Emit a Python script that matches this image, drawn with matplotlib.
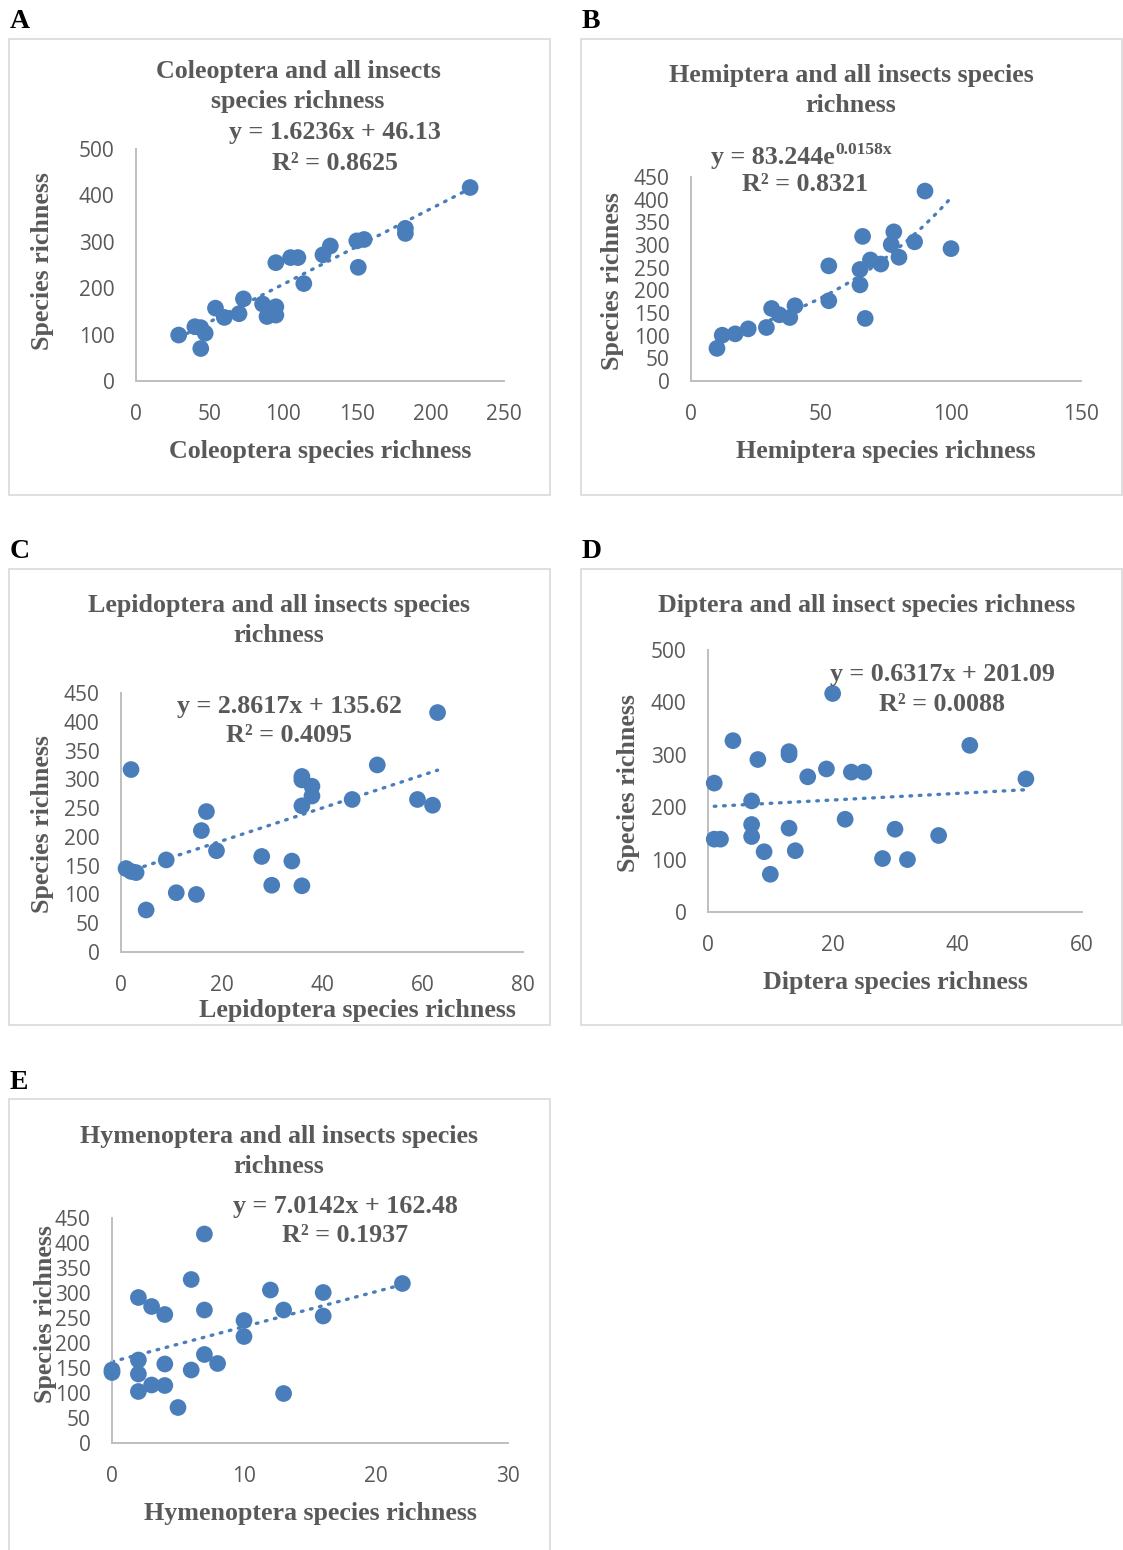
import numpy as np
import matplotlib
matplotlib.use("Agg")
import matplotlib.pyplot as plt
from matplotlib.patches import Rectangle

# ---------------- data ----------------
cole_x = [29, 40, 44, 47, 44, 54, 60, 70, 73, 86, 89, 95, 95, 95, 105, 110, 114, 127, 132, 150, 155, 151, 183, 183, 227]
cole_y = [99, 117, 115, 103, 70, 157, 137, 145, 177, 166, 139, 160, 142, 255, 266, 266, 210, 272, 291, 302, 305, 245, 329, 318, 417]

hemi_x = [10, 12, 17, 22, 29, 31, 34, 38, 40, 53, 53, 66, 65, 65, 67, 69, 73, 77, 78, 80, 86, 90, 100]
hemi_y = [72, 101, 104, 115, 118, 160, 146, 140, 166, 254, 177, 319, 246, 212, 138, 267, 258, 301, 329, 273, 307, 419, 292]

lepi_x = [1, 2, 3, 2, 5, 9, 11, 15, 16, 17, 19, 28, 30, 34, 36, 36, 36, 36, 38, 38, 46, 51, 59, 62, 63]
lepi_y = [145, 140, 138, 317, 73, 160, 103, 100, 211, 244, 176, 166, 116, 158, 115, 254, 305, 299, 288, 271, 265, 325, 265, 255, 416]

dipt_x = [1, 1, 2, 4, 7, 7, 7, 8, 9, 10, 13, 13, 13, 14, 16, 19, 20, 22, 23, 25, 28, 30, 32, 37, 42, 51]
dipt_y = [246, 139, 139, 327, 212, 167, 144, 291, 115, 72, 306, 300, 160, 117, 258, 273, 417, 177, 267, 267, 102, 158, 100, 146, 318, 254]

hyme_x = [0, 0, 2, 2, 2, 2, 3, 3, 4, 4, 4, 5, 6, 6, 7, 7, 7, 8, 10, 10, 12, 13, 13, 16, 16, 22]
hyme_y = [141, 146, 291, 166, 138, 103, 273, 116, 257, 158, 115, 71, 327, 146, 418, 266, 177, 159, 245, 213, 306, 266, 99, 301, 254, 319]

# trendline coefficients (as printed on the chart)
cole_fit = (1.6236, 46.13)
hemi_fit = (83.244, 0.0158)   # exponential
lepi_fit = (2.8617, 135.62)
dipt_fit = (0.6317, 201.09)
hyme_fit = (7.0142, 162.48)

# ---------------- style ----------------
W, H = 1123, 1550
fig = plt.figure(figsize=(W / 100, H / 100), dpi=100)
fig.patch.set_facecolor("white")

SERIF = "Liberation Serif"
SANS = "Open Sans"
GRAY = "#595959"
BLUE = "#4a7ebb"
SPINE = "#bfbfbf"
TXT = 18.7
TICK = 15
LET = 20
DY = 1.5


def P(x, y):
    return (x / W, 1 - y / H)


def ftext(x, y, s, size=TXT, color=GRAY, **kw):
    fig.text(*P(x, y + DY), s, fontsize=size, color=color, family=SERIF,
             fontweight="bold", ha=kw.pop("ha", "center"), va=kw.pop("va", "center"), **kw)


def frame(x0, y0, x1, y1):
    fig.patches.append(Rectangle(P(x0, y1), (x1 - x0) / W, (y1 - y0) / H,
                                 transform=fig.transFigure, fill=False,
                                 edgecolor="#d9d9d9", lw=1.2, zorder=0))


def make_ax(x0, y0, x1, y1, xlim, ylim, xstep, ystep):
    ax = fig.add_axes([x0 / W, 1 - y1 / H, (x1 - x0) / W, (y1 - y0) / H])
    ax.set_xlim(*xlim)
    ax.set_ylim(*ylim)
    ax.set_xticks(np.arange(xlim[0], xlim[1] + 0.01, xstep))
    ax.set_yticks(np.arange(ylim[0], ylim[1] + 0.01, ystep))
    for s in ["top", "right"]:
        ax.spines[s].set_visible(False)
    for s in ["left", "bottom"]:
        ax.spines[s].set_color(SPINE)
        ax.spines[s].set_linewidth(1.4)
    ax.tick_params(axis="x", length=0, pad=16.5, labelsize=TICK, labelcolor=GRAY)
    ax.tick_params(axis="y", length=0, pad=15.5, labelsize=TICK, labelcolor=GRAY)
    for lab in ax.get_xticklabels() + ax.get_yticklabels():
        lab.set_family(SANS)
    ax.patch.set_alpha(0)
    return ax


def scatter(ax, x, y):
    ax.scatter(x, y, s=145, color=BLUE, edgecolor="none", zorder=3, clip_on=False)


def linfit(ax, x, coef):
    xs = np.array([min(x), max(x)])
    ax.plot(xs, coef[0] * xs + coef[1], color=BLUE, lw=2.4,
            linestyle=(0, (0.5, 2.3)), dash_capstyle="round", zorder=2, clip_on=False)


# ---------------- Panel A ----------------
ftext(20, 20, "A", size=LET, color="black")
frame(9, 39, 550, 495)
ax = make_ax(136, 149, 504, 381, (0, 250), (0, 500), 50, 100)
linfit(ax, cole_x, cole_fit)
scatter(ax, cole_x, cole_y)
ftext(298, 70, "Coleoptera and all insects")
ftext(298, 100, "species richness")
ftext(335, 131, "y = 1.6236x + 46.13")
ftext(335, 162, "R² = 0.8625")
ftext(320, 450, "Coleoptera species richness")
ftext(43, 260, "Species richness", rotation=90)

# ---------------- Panel B ----------------
ftext(591, 20, "B", size=LET, color="black")
frame(581, 39, 1122, 495)
ax = make_ax(691, 177, 1081, 381, (0, 150), (0, 450), 50, 50)
xs = np.linspace(min(hemi_x), max(hemi_x), 100)
ax.plot(xs, hemi_fit[0] * np.exp(hemi_fit[1] * xs), color=BLUE, lw=2.4,
        linestyle=(0, (0.5, 2.3)), dash_capstyle="round", zorder=2)
scatter(ax, hemi_x, hemi_y)
ftext(851, 74, "Hemiptera and all insects species")
ftext(851, 104, "richness")
ftext(835, 156, "y = 83.244e", ha="right")
ftext(835, 149, "0.0158x", size=12.5, ha="left")
ftext(805, 183, "R² = 0.8321")
ftext(886, 450, "Hemiptera species richness")
ftext(613, 280, "Species richness", rotation=90)

# ---------------- Panel C ----------------
ftext(20, 550, "C", size=LET, color="black")
frame(9, 569, 550, 1025)
ax = make_ax(121, 693, 523, 952, (0, 80), (0, 450), 20, 50)
linfit(ax, lepi_x, lepi_fit)
scatter(ax, lepi_x, lepi_y)
ftext(279, 604, "Lepidoptera and all insects species")
ftext(279, 634, "richness")
ftext(289, 705, "y = 2.8617x + 135.62")
ftext(289, 734, "R² = 0.4095")
ftext(357, 1009, "Lepidoptera species richness")
ftext(43, 823, "Species richness", rotation=90)

# ---------------- Panel D ----------------
ftext(592, 550, "D", size=LET, color="black")
frame(581, 569, 1122, 1025)
ax = make_ax(708, 650, 1082, 912, (0, 60), (0, 500), 20, 100)
linfit(ax, dipt_x, dipt_fit)
scatter(ax, dipt_x, dipt_y)
ftext(867, 604, "Diptera and all insect species richness")
ftext(942, 673, "y = 0.6317x + 201.09")
ftext(942, 703, "R² = 0.0088")
ftext(895, 981, "Diptera species richness")
ftext(629, 782, "Species richness", rotation=90)

# ---------------- Panel E ----------------
ftext(19, 1081, "E", size=LET, color="black")
frame(9, 1099, 550, 1560)
ax = make_ax(112, 1218, 508, 1443, (0, 30), (0, 450), 10, 50)
linfit(ax, hyme_x, hyme_fit)
scatter(ax, hyme_x, hyme_y)
ftext(279, 1135, "Hymenoptera and all insects species")
ftext(279, 1165, "richness")
ftext(345, 1205, "y = 7.0142x + 162.48")
ftext(345, 1234, "R² = 0.1937")
ftext(310, 1512, "Hymenoptera species richness")
ftext(46, 1313, "Species richness", rotation=90)

fig.savefig("out.png", dpi=100, facecolor="white")
